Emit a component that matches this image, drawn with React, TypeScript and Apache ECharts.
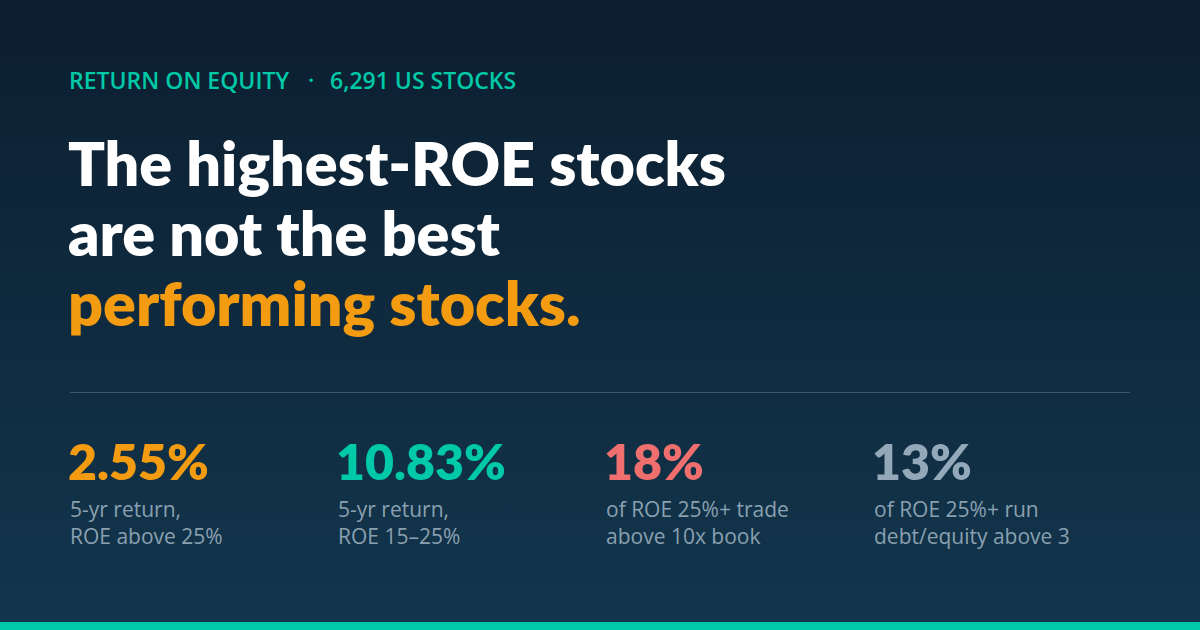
import React, { useEffect, useRef } from "react";
import * as echarts from "echarts";

const EYEBROW = ["RETURN ON EQUITY", "·", "6,291 US STOCKS"];
const TITLE_WHITE = ["The highest-ROE stocks", "are not the best"];
const TITLE_ACCENT = "performing stocks.";
const STAT_VALUES = ["2.55%", "10.83%", "18%", "13%"];
const STAT_LABELS = [
  ["5-yr return,", "ROE above 25%"],
  ["5-yr return,", "ROE 15–25%"],
  ["of ROE 25%+ trade", "above 10x book"],
  ["of ROE 25%+ run", "debt/equity above 3"],
];

const STAT_COLORS = ["#f39c12", "#00c9a7", "#ef6f6e", "#93a8b8"];
const TEAL = "#00c9a7";
const ORANGE = "#f39c12";
const LABEL = "#8aa0b0";
const TITLE_FONT = "Lato";
const BODY_FONT = "Open Sans";

function txt(text: string, x: number, baseline: number, size: number, weight: number | string, color: string, family: string) {
  return {
    type: "text",
    x,
    y: baseline - size * 0.37,
    style: {
      text,
      fill: color,
      fontSize: size,
      fontWeight: weight,
      fontFamily: family,
      textAlign: "left",
      textVerticalAlign: "middle",
    },
  };
}

export default function App() {
  const ref = useRef<HTMLDivElement>(null);
  useEffect(() => {
    document.body.style.margin = "0";
    const chart = echarts.init(ref.current!, null, { renderer: "svg" });
    const els: any[] = [];
    els.push({
      type: "rect",
      shape: { x: 0, y: 0, width: 1200, height: 630 },
      style: {
        fill: new echarts.graphic.LinearGradient(0, 0, 0, 1, [
          { offset: 0, color: "#0c1e30" },
          { offset: 1, color: "#12364d" },
        ]),
      },
    });
    // eyebrow
    els.push(txt(EYEBROW[0], 69, 89, 23, 600, TEAL, BODY_FONT));
    els.push(txt(EYEBROW[1], 308, 89, 23, 600, TEAL, BODY_FONT));
    els.push(txt(EYEBROW[2], 330, 89, 23, 600, TEAL, BODY_FONT));
    // title
    TITLE_WHITE.forEach((t, i) => els.push(txt(t, 68, 185 + i * 70, 61, 800, "#ffffff", TITLE_FONT)));
    els.push(txt(TITLE_ACCENT, 68, 325, 61, 800, ORANGE, TITLE_FONT));
    // divider
    els.push({
      type: "line",
      shape: { x1: 70, y1: 392.5, x2: 1130, y2: 392.5 },
      style: { stroke: "#39566a", lineWidth: 1 },
    });
    // stats
    STAT_VALUES.forEach((v, i) => {
      const x = 70 + i * 268;
      els.push(txt(v, x - 2, 479, 50, 800, STAT_COLORS[i], TITLE_FONT));
      STAT_LABELS[i].forEach((l, j) => els.push(txt(l, x, 517 + j * 27, 21, 400, LABEL, BODY_FONT)));
    });
    // bottom bar
    els.push({
      type: "rect",
      shape: { x: 0, y: 622, width: 1200, height: 8 },
      style: { fill: TEAL },
    });
    chart.setOption({ animation: false, graphic: { elements: els } });
    return () => chart.dispose();
  }, []);
  return <div ref={ref} style={{ width: 1200, height: 630 }} />;
}
